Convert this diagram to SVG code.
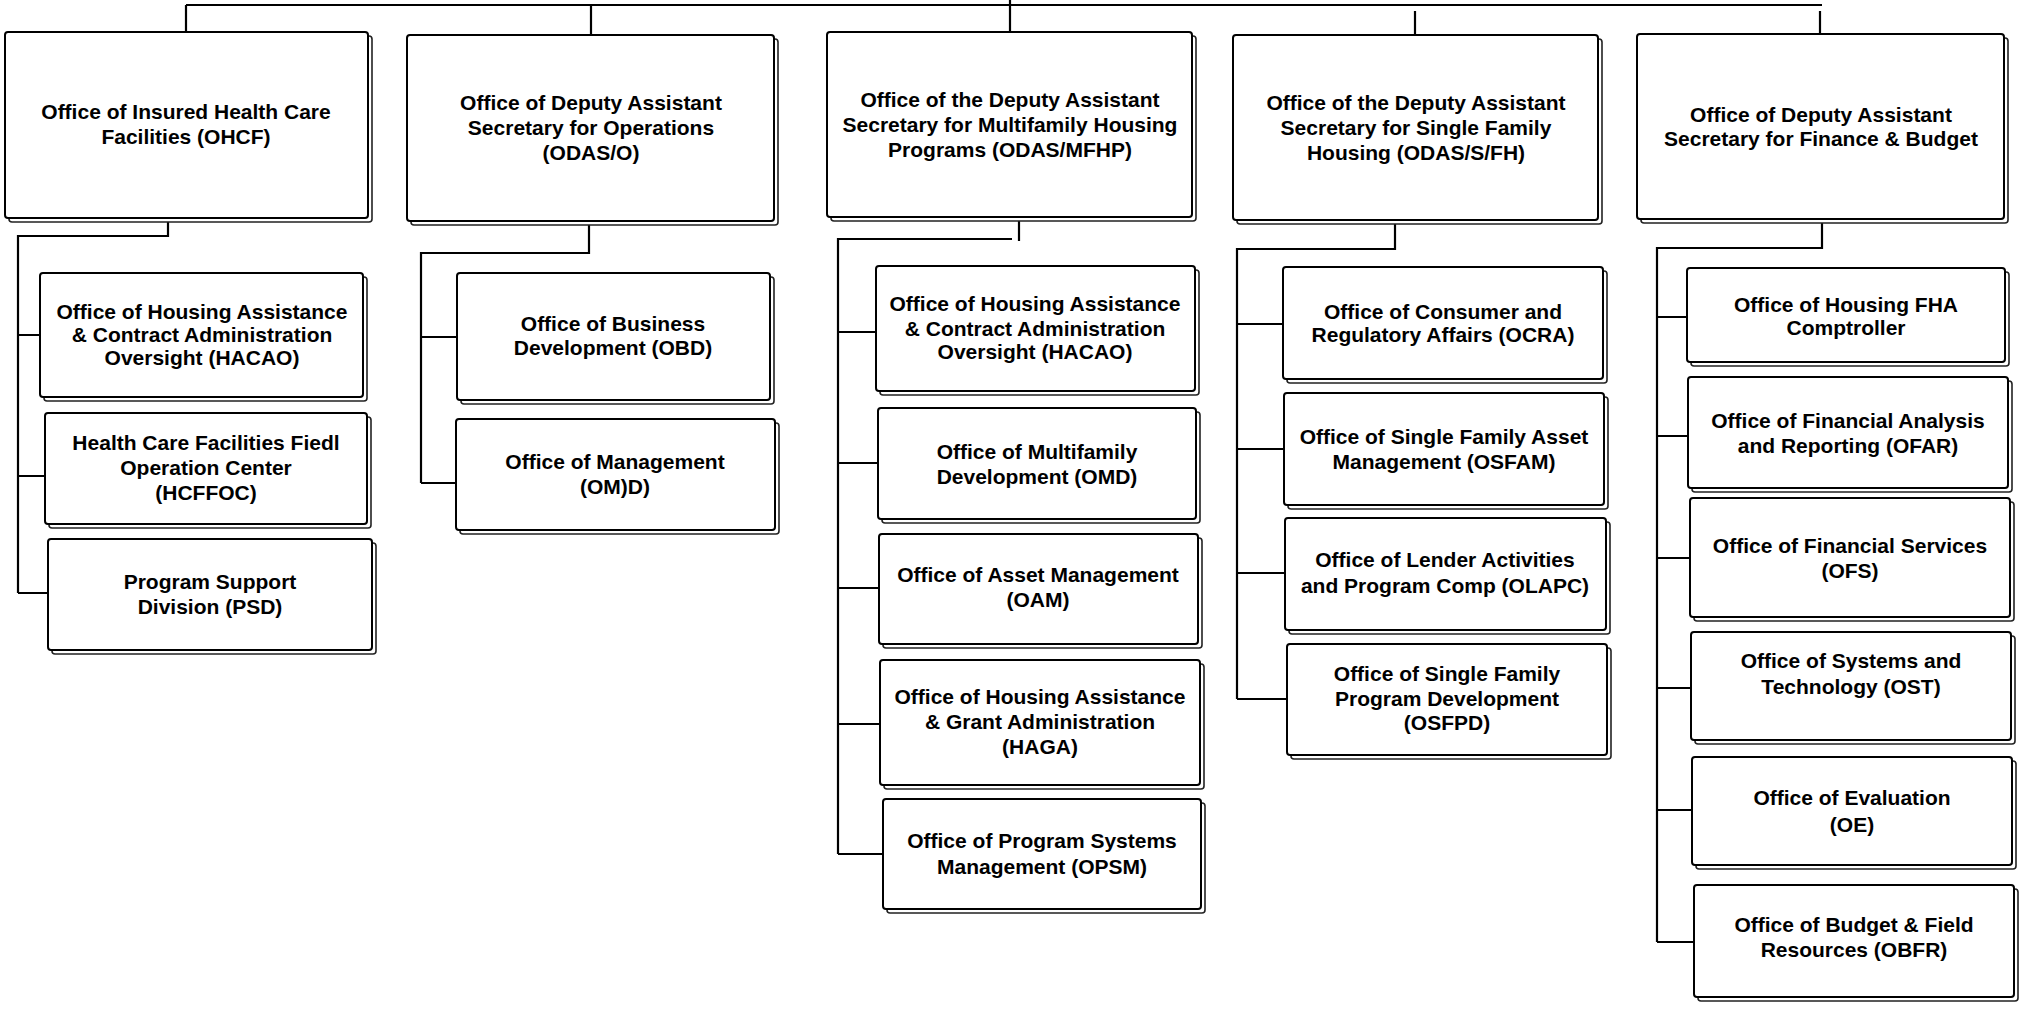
<svg xmlns="http://www.w3.org/2000/svg" width="2028" height="1010" viewBox="0 0 2028 1010">
<style>
.bx{fill:#fff;stroke:#000;stroke-width:2}
.sh{fill:#fff;stroke:#222;stroke-width:1.6}
.t{font-family:"Liberation Sans",Arial,sans-serif;font-weight:bold;font-size:21px;fill:#000;text-anchor:middle}
.c{fill:none;stroke:#000;stroke-width:2.2}
</style>
<rect width="2028" height="1010" fill="#fff"/>
<g id="connectors">
<path class="c" d="M186,5 H1822"/>
<path class="c" d="M186,5 V34 M591,5 V35 M1010,0 V32 M1415,11 V35 M1820,11 V34"/>
<path class="c" d="M168,218 V236 H18 V593 M18,335 H40 M18,476 H45 M18,593 H48"/>
<path class="c" d="M589,221 V253 H421 V483 M421,337 H457 M421,483 H456"/>
<path class="c" d="M1019,217 V241 M1012,239 H838 V854 M838,332 H876 M838,463 H878 M838,588 H879 M838,724 H880 M838,854 H883"/>
<path class="c" d="M1395,220 V249 H1237 V699 M1237,324 H1283 M1237,449 H1284 M1237,573 H1285 M1237,699 H1287"/>
<path class="c" d="M1822,219 V248 H1657 V942 M1657,317 H1687 M1657,436 H1688 M1657,558 H1690 M1657,688 H1691 M1657,810 H1692 M1657,942 H1694"/>
</g>
<g id="ohcf"><rect class="sh" x="9" y="36" width="363" height="186" rx="3"/><rect class="bx" x="5" y="32" width="363" height="186" rx="3"/>
<text class="t"><tspan x="186" y="119">Office of Insured Health Care</tspan><tspan x="186" y="144">Facilities (OHCF)</tspan></text></g>
<g id="odas-o"><rect class="sh" x="411" y="39" width="367" height="186" rx="3"/><rect class="bx" x="407" y="35" width="367" height="186" rx="3"/>
<text class="t"><tspan x="591" y="110">Office of Deputy Assistant</tspan><tspan x="591" y="135">Secretary for Operations</tspan><tspan x="591" y="160">(ODAS/O)</tspan></text></g>
<g id="odas-mfhp"><rect class="sh" x="831" y="36" width="365" height="185" rx="3"/><rect class="bx" x="827" y="32" width="365" height="185" rx="3"/>
<text class="t"><tspan x="1010" y="107">Office of the Deputy Assistant</tspan><tspan x="1010" y="132">Secretary for Multifamily Housing</tspan><tspan x="1010" y="157">Programs (ODAS/MFHP)</tspan></text></g>
<g id="odas-sfh"><rect class="sh" x="1237" y="39" width="365" height="185" rx="3"/><rect class="bx" x="1233" y="35" width="365" height="185" rx="3"/>
<text class="t"><tspan x="1416" y="110">Office of the Deputy Assistant</tspan><tspan x="1416" y="135">Secretary for Single Family</tspan><tspan x="1416" y="160">Housing (ODAS/S/FH)</tspan></text></g>
<g id="odas-fb"><rect class="sh" x="1641" y="38" width="367" height="185" rx="3"/><rect class="bx" x="1637" y="34" width="367" height="185" rx="3"/>
<text class="t"><tspan x="1821" y="122">Office of Deputy Assistant</tspan><tspan x="1821" y="146">Secretary for Finance &amp; Budget</tspan></text></g>

<g id="hacao-1"><rect class="sh" x="44" y="277" width="323" height="124" rx="3"/><rect class="bx" x="40" y="273" width="323" height="124" rx="3"/>
<text class="t"><tspan x="202" y="319">Office of Housing Assistance</tspan><tspan x="202" y="342">&amp; Contract Administration</tspan><tspan x="202" y="365">Oversight (HACAO)</tspan></text></g>
<g id="hcffoc"><rect class="sh" x="49" y="417" width="322" height="111" rx="3"/><rect class="bx" x="45" y="413" width="322" height="111" rx="3"/>
<text class="t"><tspan x="206" y="450">Health Care Facilities Fiedl</tspan><tspan x="206" y="475">Operation Center</tspan><tspan x="206" y="500">(HCFFOC)</tspan></text></g>
<g id="psd"><rect class="sh" x="52" y="543" width="324" height="111" rx="3"/><rect class="bx" x="48" y="539" width="324" height="111" rx="3"/>
<text class="t"><tspan x="210" y="589">Program Support</tspan><tspan x="210" y="614">Division (PSD)</tspan></text></g>

<g id="obd"><rect class="sh" x="461" y="277" width="313" height="127" rx="3"/><rect class="bx" x="457" y="273" width="313" height="127" rx="3"/>
<text class="t"><tspan x="613" y="331">Office of Business</tspan><tspan x="613" y="355">Development (OBD)</tspan></text></g>
<g id="omd-o"><rect class="sh" x="460" y="423" width="319" height="111" rx="3"/><rect class="bx" x="456" y="419" width="319" height="111" rx="3"/>
<text class="t"><tspan x="615" y="469">Office of Management</tspan><tspan x="615" y="494">(OM)D)</tspan></text></g>

<g id="hacao-3"><rect class="sh" x="880" y="270" width="319" height="125" rx="3"/><rect class="bx" x="876" y="266" width="319" height="125" rx="3"/>
<text class="t"><tspan x="1035" y="311">Office of Housing Assistance</tspan><tspan x="1035" y="336">&amp; Contract Administration</tspan><tspan x="1035" y="359">Oversight (HACAO)</tspan></text></g>
<g id="omd"><rect class="sh" x="882" y="412" width="318" height="111" rx="3"/><rect class="bx" x="878" y="408" width="318" height="111" rx="3"/>
<text class="t"><tspan x="1037" y="459">Office of Multifamily</tspan><tspan x="1037" y="484">Development (OMD)</tspan></text></g>
<g id="oam"><rect class="sh" x="883" y="538" width="319" height="110" rx="3"/><rect class="bx" x="879" y="534" width="319" height="110" rx="3"/>
<text class="t"><tspan x="1038" y="582">Office of Asset Management</tspan><tspan x="1038" y="607">(OAM)</tspan></text></g>
<g id="haga"><rect class="sh" x="884" y="664" width="320" height="125" rx="3"/><rect class="bx" x="880" y="660" width="320" height="125" rx="3"/>
<text class="t"><tspan x="1040" y="704">Office of Housing Assistance</tspan><tspan x="1040" y="729">&amp; Grant Administration</tspan><tspan x="1040" y="754">(HAGA)</tspan></text></g>
<g id="opsm"><rect class="sh" x="887" y="803" width="318" height="110" rx="3"/><rect class="bx" x="883" y="799" width="318" height="110" rx="3"/>
<text class="t"><tspan x="1042" y="848">Office of Program Systems</tspan><tspan x="1042" y="874">Management (OPSM)</tspan></text></g>

<g id="ocra"><rect class="sh" x="1287" y="271" width="320" height="112" rx="3"/><rect class="bx" x="1283" y="267" width="320" height="112" rx="3"/>
<text class="t"><tspan x="1443" y="319">Office of Consumer and</tspan><tspan x="1443" y="342">Regulatory Affairs (OCRA)</tspan></text></g>
<g id="osfam"><rect class="sh" x="1288" y="397" width="320" height="112" rx="3"/><rect class="bx" x="1284" y="393" width="320" height="112" rx="3"/>
<text class="t"><tspan x="1444" y="444">Office of Single Family Asset</tspan><tspan x="1444" y="469">Management (OSFAM)</tspan></text></g>
<g id="olapc"><rect class="sh" x="1289" y="522" width="321" height="112" rx="3"/><rect class="bx" x="1285" y="518" width="321" height="112" rx="3"/>
<text class="t"><tspan x="1445" y="567">Office of Lender Activities</tspan><tspan x="1445" y="593">and Program Comp (OLAPC)</tspan></text></g>
<g id="osfpd"><rect class="sh" x="1291" y="648" width="320" height="111" rx="3"/><rect class="bx" x="1287" y="644" width="320" height="111" rx="3"/>
<text class="t"><tspan x="1447" y="681">Office of Single Family</tspan><tspan x="1447" y="706">Program Development</tspan><tspan x="1447" y="730">(OSFPD)</tspan></text></g>

<g id="fha"><rect class="sh" x="1691" y="272" width="318" height="94" rx="3"/><rect class="bx" x="1687" y="268" width="318" height="94" rx="3"/>
<text class="t"><tspan x="1846" y="312">Office of Housing FHA</tspan><tspan x="1846" y="335">Comptroller</tspan></text></g>
<g id="ofar"><rect class="sh" x="1692" y="381" width="320" height="111" rx="3"/><rect class="bx" x="1688" y="377" width="320" height="111" rx="3"/>
<text class="t"><tspan x="1848" y="428">Office of Financial Analysis</tspan><tspan x="1848" y="453">and Reporting (OFAR)</tspan></text></g>
<g id="ofs"><rect class="sh" x="1694" y="502" width="320" height="119" rx="3"/><rect class="bx" x="1690" y="498" width="320" height="119" rx="3"/>
<text class="t"><tspan x="1850" y="553">Office of Financial Services</tspan><tspan x="1850" y="578">(OFS)</tspan></text></g>
<g id="ost"><rect class="sh" x="1695" y="636" width="320" height="108" rx="3"/><rect class="bx" x="1691" y="632" width="320" height="108" rx="3"/>
<text class="t"><tspan x="1851" y="668">Office of Systems and</tspan><tspan x="1851" y="694">Technology (OST)</tspan></text></g>
<g id="oe"><rect class="sh" x="1696" y="761" width="320" height="108" rx="3"/><rect class="bx" x="1692" y="757" width="320" height="108" rx="3"/>
<text class="t"><tspan x="1852" y="805">Office of Evaluation</tspan><tspan x="1852" y="832">(OE)</tspan></text></g>
<g id="obfr"><rect class="sh" x="1698" y="889" width="320" height="112" rx="3"/><rect class="bx" x="1694" y="885" width="320" height="112" rx="3"/>
<text class="t"><tspan x="1854" y="932">Office of Budget &amp; Field</tspan><tspan x="1854" y="957">Resources (OBFR)</tspan></text></g>
</svg>
